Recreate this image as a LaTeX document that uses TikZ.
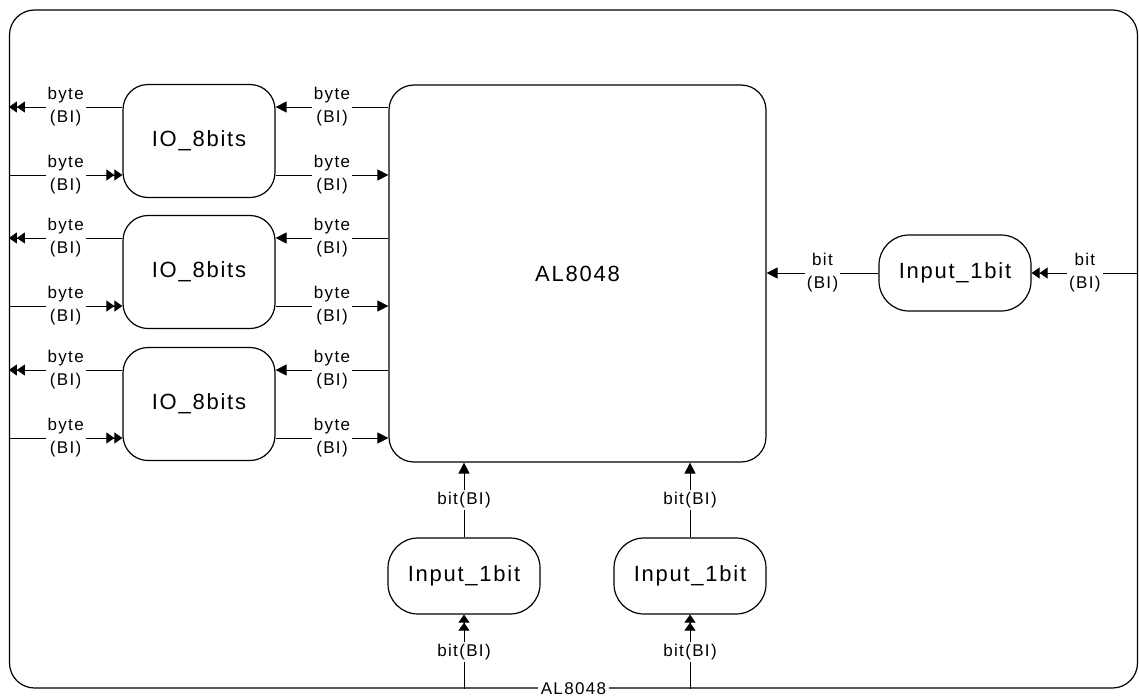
\documentclass[tikz,border=0pt]{standalone}
\usepackage{fontspec}
\setmainfont[LetterSpace=8]{Liberation Sans}
\usetikzlibrary{arrows.meta}

\begin{document}
\begin{tikzpicture}[x=1pt,y=-1pt,
  block/.style={draw,line width=1.2pt,rounded corners=25pt,inner sep=0pt,font=\fontsize{22}{24}\selectfont},
  inbox/.style={block,rounded corners=30pt,minimum width=152pt,minimum height=76pt},
  lbl/.style={fill=white,inner sep=2pt,align=center,font=\fontsize{17}{23}\selectfont},
  wire/.style={line width=0.8pt},
  one/.style={-{Triangle[length=11pt,width=11pt]}},
  two/.style={-{Triangle[length=8pt,width=11pt]Triangle[length=8pt,width=11pt]}}]
  \useasboundingbox (0,0) rectangle (1139,699);

  % outer frame and main block
  \node[block,minimum width=1128pt,minimum height=678pt] (frame) at (573.5,349) {};
  \node[lbl,inner xsep=3pt] (fname) at (frame.south) {AL8048};
  \node[block,minimum width=377pt,minimum height=377pt] (al) at (577.5,273.5) {AL8048};

  % the three IO_8bits blocks
  \foreach \i/\y in {1/141,2/272,3/404}{
    \node[block,minimum width=152pt,minimum height=113pt] (io\i) at (199,\y) {IO\_8bits};
    \coordinate (a\i) at ([yshift=34pt]io\i.west);
    \coordinate (b\i) at ([yshift=-34pt]io\i.west);
    \coordinate (c\i) at ([yshift=34pt]io\i.east);
    \coordinate (d\i) at ([yshift=-34pt]io\i.east);
    \draw[wire,two] (a\i) -- (a\i -| frame.west) node[lbl,midway] {byte\\(BI)};
    \draw[wire,two] (b\i -| frame.west) -- (b\i) node[lbl,midway] {byte\\(BI)};
    \draw[wire,one] (c\i -| al.west) -- (c\i) node[lbl,midway] {byte\\(BI)};
    \draw[wire,one] (d\i) -- (d\i -| al.west) node[lbl,midway] {byte\\(BI)};
  }

  % right input
  \node[inbox] (inR) at (955,273) {Input\_1bit};
  \draw[wire,one] (inR.west) -- (inR.west -| al.east) node[lbl,midway] {bit\\(BI)};
  \draw[wire,two] (inR.east -| frame.east) -- (inR.east) node[lbl,midway] {bit\\(BI)};

  % bottom inputs
  \foreach \i/\x in {1/464,2/690}{
    \node[inbox] (inB\i) at (\x,576) {Input\_1bit};
    \draw[wire,one] (inB\i.north) -- (inB\i.north |- al.south) node[lbl,midway] {bit(BI)};
    \draw[wire,two] (inB\i.south |- frame.south) -- (inB\i.south) node[lbl,midway] {bit(BI)};
  }
\end{tikzpicture}
\end{document}
